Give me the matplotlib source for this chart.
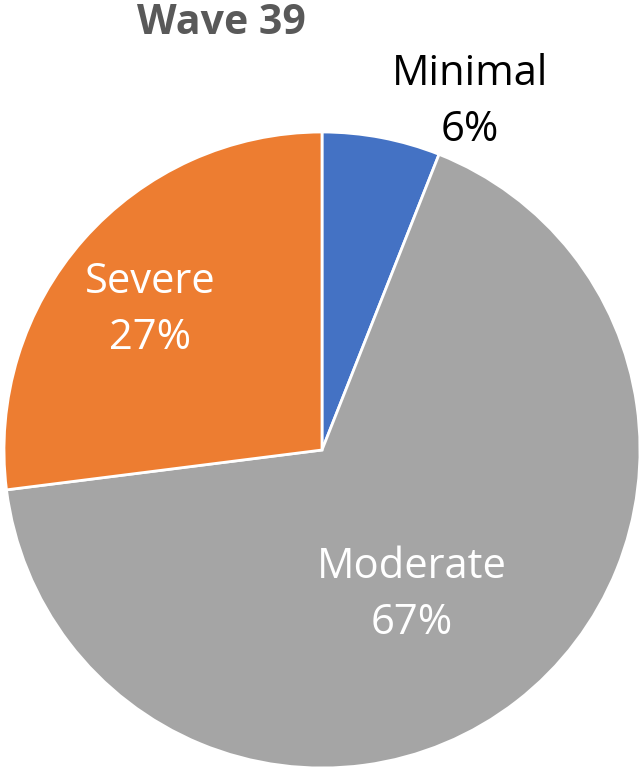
import matplotlib.pyplot as plt

labels = ['Minimal', 'Moderate', 'Severe']
values = [6, 67, 27]
colors = ['#4472C4', '#A5A5A5', '#ED7D31']
text_colors = ['black', 'white', 'white']
# label anchor points in data units (pie radius = 1)
label_pos = [(0.465, 1.095), (0.283, -0.456), (-0.541, 0.44)]

plt.rcParams['font.family'] = ['Open Sans', 'DejaVu Sans']

fig = plt.figure(figsize=(6.41, 7.67), dpi=100)
ax = fig.add_axes([4 / 641, -1 / 767, 636 / 641, 636 / 767])

ax.pie(values, colors=colors, startangle=90, counterclock=False,
       wedgeprops=dict(edgecolor='white', linewidth=2))
ax.set_xlim(-1, 1)
ax.set_ylim(-1, 1)
ax.set_aspect('equal')
ax.axis('off')

for lab, v, c, (x, y) in zip(labels, values, text_colors, label_pos):
    ax.text(x, y, f"{lab}\n{v}%", ha='center', va='center', color=c,
            fontsize=30, linespacing=1.45, clip_on=False)

fig.text(221 / 641, 1 - 23 / 767, 'Wave 39', ha='center', va='center',
         fontsize=29.5, fontweight='bold', color='#595959')

fig.savefig('out.png', dpi=100)
